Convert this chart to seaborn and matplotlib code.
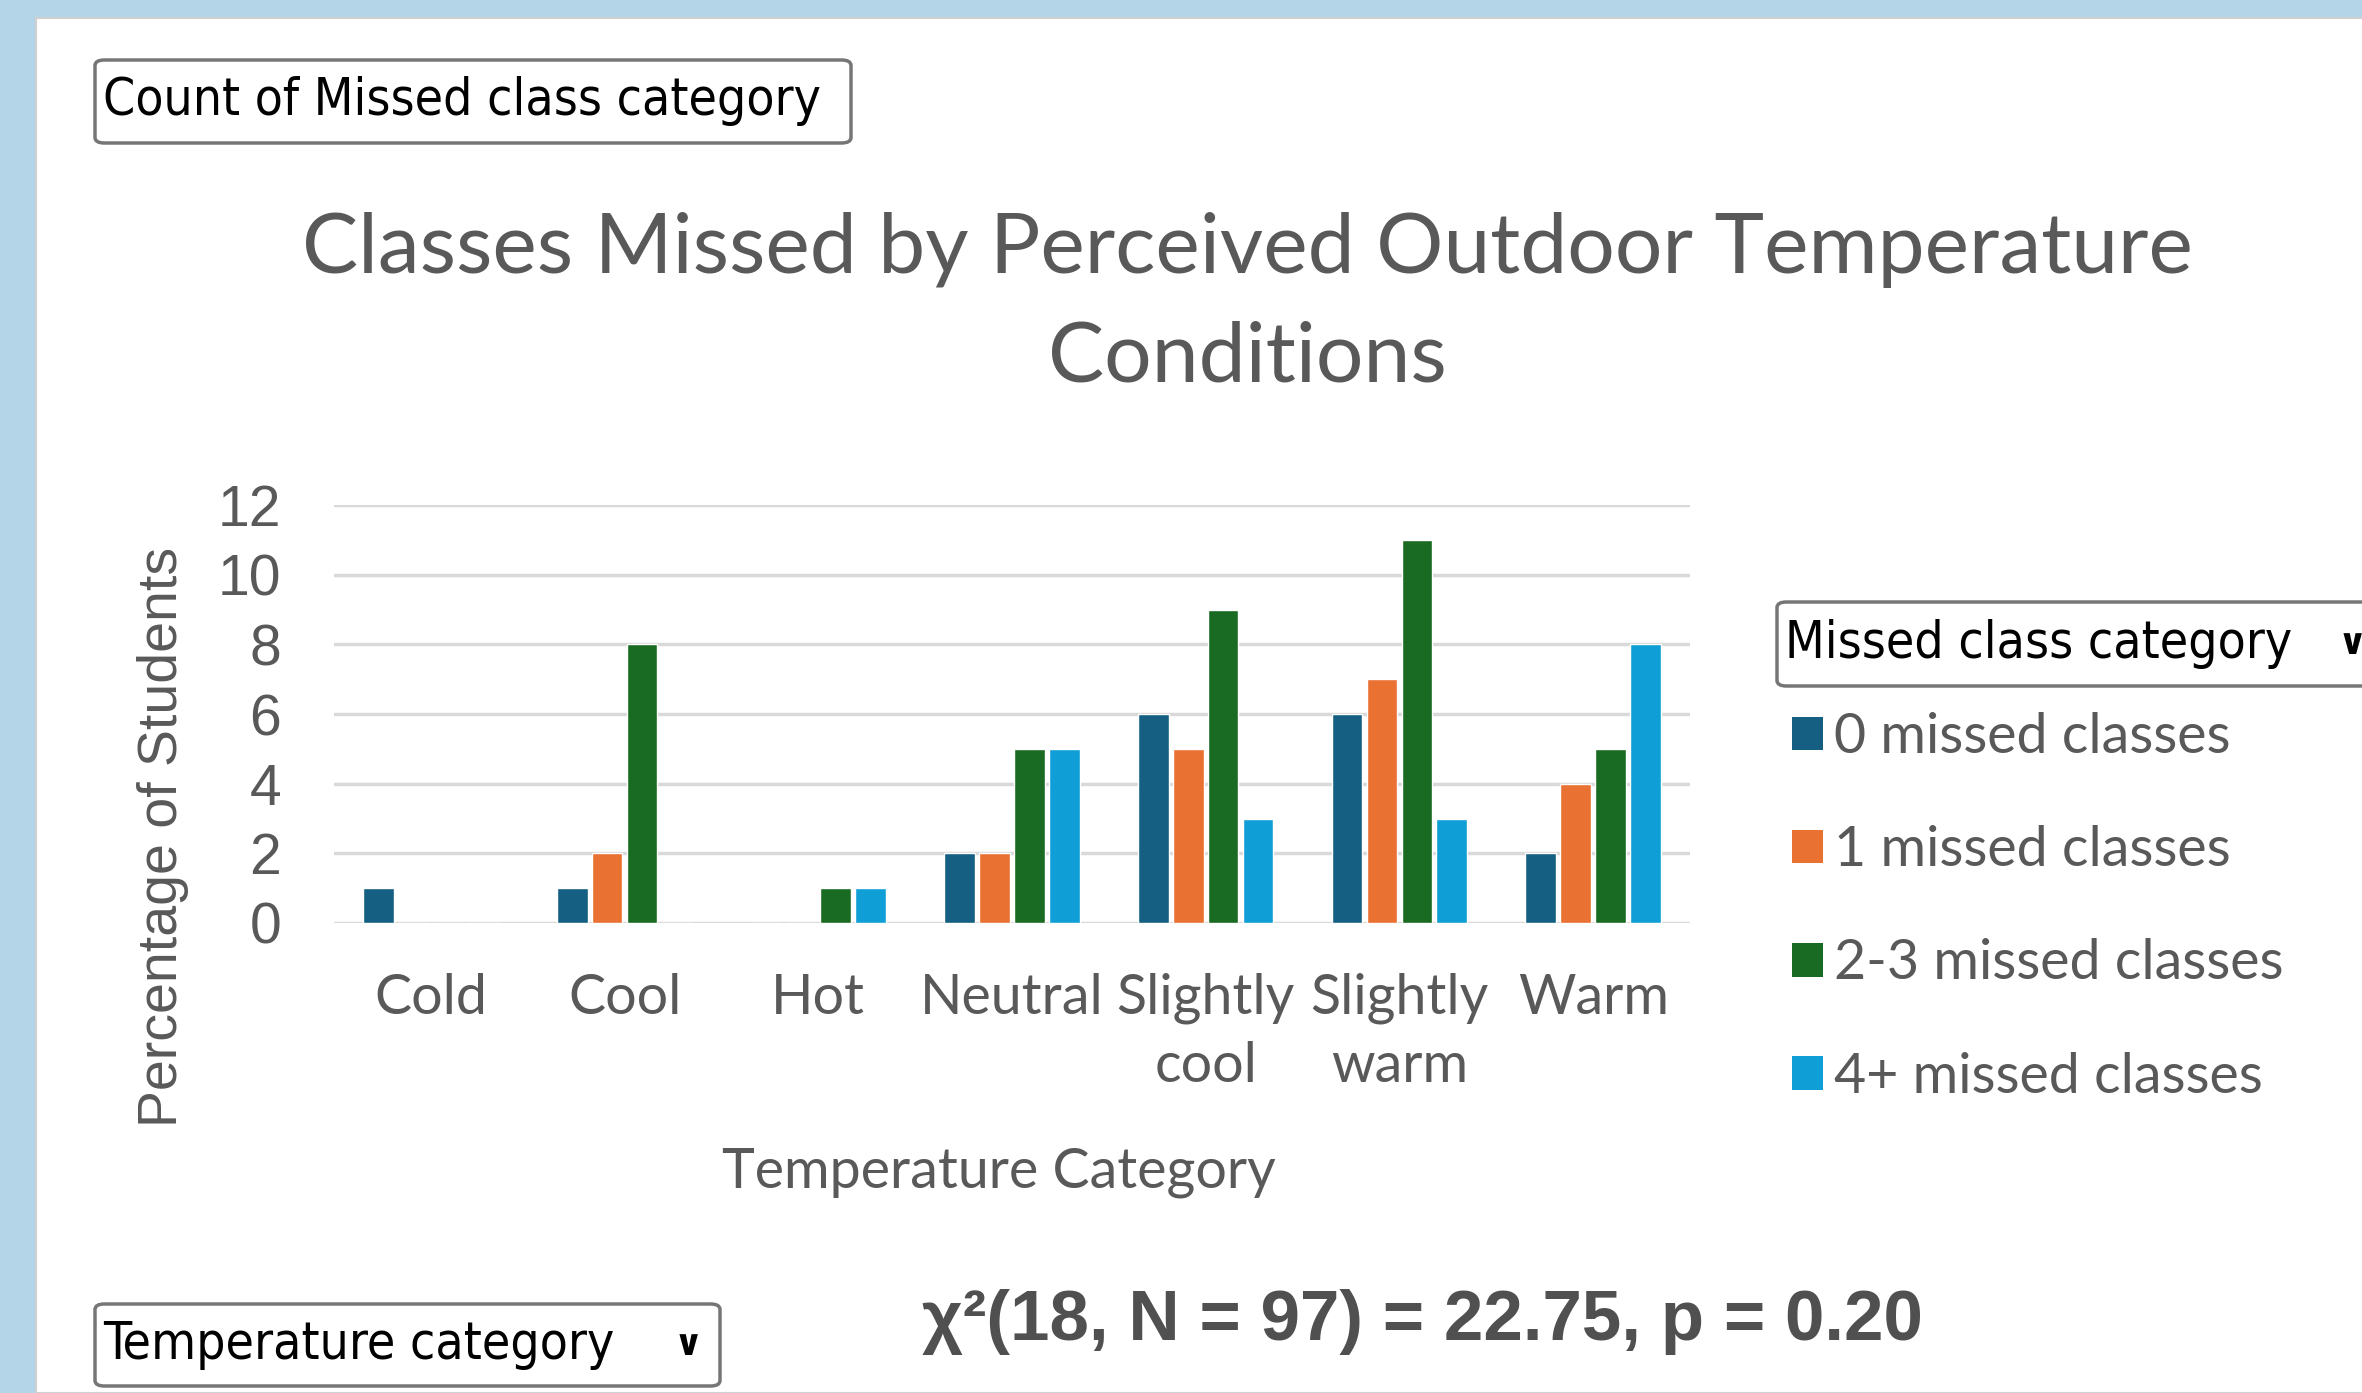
import matplotlib
matplotlib.use("Agg")
import matplotlib.pyplot as plt
from matplotlib.patches import Patch, FancyBboxPatch, Rectangle
import pandas as pd
import seaborn as sns

# values
temps = ["Cold", "Cool", "Hot", "Neutral", "Slightly\ncool", "Slightly\nwarm", "Warm"]
groups = ["0 missed classes", "1 missed classes", "2-3 missed classes", "4+ missed classes"]
zero_missed = [1, 1, 0, 2, 6, 6, 2]
one_missed = [0, 2, 0, 2, 5, 7, 4]
two_three_missed = [0, 8, 1, 5, 9, 11, 5]
four_plus_missed = [0, 0, 1, 5, 3, 3, 8]
colors = ["#156082", "#E97132", "#196B24", "#0F9ED5"]

series = [zero_missed, one_missed, two_three_missed, four_plus_missed]
rows = []
for g, vals in zip(groups, series):
    for t, v in zip(temps, vals):
        rows.append({"temp": t, "group": g, "pct": v})
df = pd.DataFrame(rows)

W, H = 2362, 1393
sns.set_theme(style="white")
fig = plt.figure(figsize=(W / 100, H / 100), dpi=100)
fig.patch.set_facecolor("#B4D5E7")


def fx(px):
    return px / W


def fy(py):
    return 1 - py / H


# white panel behind everything
fig.add_artist(Rectangle((fx(36), 0), 1, fy(18), transform=fig.transFigure,
                         facecolor="white", edgecolor="#D0D0D0", lw=1.5, zorder=-5))

ax = fig.add_axes([fx(334), fy(923), fx(1690) - fx(334), fy(505) - fy(923)])
sns.barplot(data=df, x="temp", y="pct", hue="group", palette=colors,
            hue_order=groups, order=temps, width=0.72, gap=0.12,
            saturation=1, errorbar=None, legend=False, ax=ax)

ax.set_ylim(0, 12)
ax.set_xlim(-0.5, len(temps) - 0.5)
ax.set_yticks(range(0, 13, 2))
ax.yaxis.grid(True, color="#D9D9D9", lw=2.5)
ax.set_axisbelow(True)
for s in ax.spines.values():
    s.set_visible(False)
ax.set_facecolor("none")
ax.tick_params(axis="both", length=0)
ax.tick_params(axis="y", pad=38, labelsize=41, labelcolor="#595959")
ax.tick_params(axis="x", pad=36, labelsize=40, labelcolor="#595959")
for lab in ax.get_yticklabels():
    lab.set_fontfamily("Liberation Sans")
for lab in ax.get_xticklabels():
    lab.set_fontfamily("Lato")
    lab.set_linespacing(1.4)
ax.set_xlabel("")
ax.set_ylabel("")

fig.text(fx(163), fy(837), "Percentage of Students", rotation=90, ha="center",
         va="center", fontsize=40, color="#595959", family="Liberation Sans")
fig.text(fx(999), fy(1172), "Temperature Category", ha="center", va="center",
         fontsize=40, color="#595959", family="Lato")

fig.text(fx(1247), fy(250), "Classes Missed by Perceived Outdoor Temperature",
         ha="center", va="center", fontsize=60.5, color="#595959", family="Lato")
fig.text(fx(1247), fy(358), "Conditions",
         ha="center", va="center", fontsize=60.5, color="#595959", family="Lato")

handles = [Patch(facecolor=c, edgecolor="none", label=g) for c, g in zip(colors, groups)]
leg = fig.legend(handles=handles, loc="upper left", bbox_to_anchor=(fx(1792), fy(712)),
                 frameon=False, fontsize=40, handlelength=0.55, handleheight=0.55,
                 handletextpad=0.2, labelspacing=1.12, borderpad=0, borderaxespad=0,
                 prop={"family": "Lato", "size": 40})
for t in leg.get_texts():
    t.set_color("#595959")


def dropdown(x0, y0, x1, y1, label):
    fig.add_artist(FancyBboxPatch((fx(x0), fy(y1)), fx(x1) - fx(x0), fy(y0) - fy(y1),
                                  boxstyle="round,pad=0,rounding_size=0.004",
                                  transform=fig.transFigure, facecolor="white",
                                  edgecolor="#767676", lw=2.5))
    fig.text(fx(x0 + 8), fy((y0 + y1) / 2), label, ha="left", va="center",
             fontsize=37, color="black", family="DejaVu Sans", fontstretch="condensed")


dropdown(95, 60, 851, 143, "Count of Missed class category")
dropdown(1777, 602, 2400, 686, "Missed class category")
dropdown(95, 1304, 720, 1386, "Temperature category")
fig.text(fx(2352), fy(644), "\u2228", ha="center", va="center", fontsize=26,
         color="black", family="DejaVu Sans", fontweight="bold")
fig.text(fx(688), fy(1345), "\u2228", ha="center", va="center", fontsize=26,
         color="black", family="DejaVu Sans", fontweight="bold")

fig.text(fx(922), fy(1322), "\u03c7\u00b2(18, N = 97) = 22.75, p = 0.20", ha="left",
         va="center", fontsize=51, fontweight="bold", color="#505050",
         family="Liberation Sans")

fig.savefig("out.png", dpi=100)
